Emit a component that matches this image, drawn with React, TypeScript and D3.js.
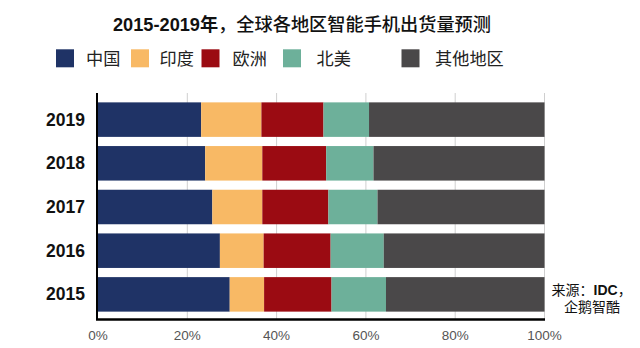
import React from "react";
import * as d3 from "d3";

const years = ["2019", "2018", "2017", "2016", "2015"];
const seriesNames = ["中国", "印度", "欧洲", "北美", "其他地区"];
const seriesColors = ["#1f3366", "#f8b965", "#9b0b12", "#6db09a", "#4a4849"];
const china = [23.1, 24.0, 25.6, 27.3, 29.5];
const india = [13.5, 12.8, 11.2, 9.8, 7.7];
const europe = [13.9, 14.3, 14.8, 15.0, 15.1];
const northAmerica = [10.2, 10.6, 11.0, 11.9, 12.2];
const others = [39.3, 38.3, 37.4, 36.0, 35.5];
const xTicks = [0, 20, 40, 60, 80, 100];
const titleYears = "2015-2019年";
const titleRest = "，全球各地区智能手机出货量预测";

const FONT = "'Liberation Sans', Arial, 'Noto Sans CJK SC', sans-serif";

export default function App() {
  const W = 640, H = 348;
  const x = d3.scaleLinear().domain([0, 100]).range([98, 544.5]);
  const y = d3.scaleBand().domain(years).range([98, 316]).paddingInner(0.21).paddingOuter(0.1);

  const table = years.map((yr, i) => ({
    year: yr,
    "中国": china[i],
    "印度": india[i],
    "欧洲": europe[i],
    "北美": northAmerica[i],
    "其他地区": others[i],
  }));
  const stack = d3.stack<any>().keys(seriesNames)(table);

  const legendPos = [
    { sx: 56, tx: 86 },
    { sx: 131, tx: 159.5 },
    { sx: 201.5, tx: 232.5 },
    { sx: 283, tx: 316.5 },
    { sx: 401.5, tx: 435 },
  ];

  return (
    <svg width={W} height={H} style={{ position: "absolute", left: 0, top: 0, background: "#fff" }} fontFamily={FONT}>
      <rect x={0} y={0} width={W} height={H} fill="#fff" />
      <text x={113} y={31} fontSize={18.2} fill="#111">
        <tspan fontWeight="bold">{titleYears}</tspan>
        <tspan fontWeight={500}>{titleRest}</tspan>
      </text>
      {seriesNames.map((s, i) => (
        <g key={s}>
          <rect x={legendPos[i].sx} y={49.3} width={18} height={18} fill={seriesColors[i]} />
          <text x={legendPos[i].tx} y={65} fontSize={17.2} fill="#222">{s}</text>
        </g>
      ))}
      {xTicks.filter((t) => t > 0).map((t) => (
        <line key={t} x1={x(t)} x2={x(t)} y1={93} y2={319} stroke="#cfcfcf" strokeWidth={1} />
      ))}
      {stack.map((layer, si) => (
        <g key={si} fill={seriesColors[si]}>
          {layer.map((d: any, j: number) => (
            <rect key={j} x={x(d[0])} y={y(d.data.year)!} width={x(d[1]) - x(d[0])} height={y.bandwidth()} />
          ))}
        </g>
      ))}
      <line x1={97} x2={97} y1={93} y2={320} stroke="#000" strokeWidth={2} />
      <line x1={96} x2={545} y1={319.5} y2={319.5} stroke="#000" strokeWidth={2.5} />
      {years.map((yr) => (
        <text key={yr} x={85} y={y(yr)! + y.bandwidth() / 2 + 6} textAnchor="end" fontSize={17.5} fontWeight="bold" fill="#111">{yr}</text>
      ))}
      {xTicks.map((t) => (
        <text key={t} x={x(t)} y={340} textAnchor="middle" fontSize={13.5} fill="#555">{t + "%"}</text>
      ))}
      <text x={551.5} y={295} fontSize={14} fill="#111">
        来源：<tspan fontWeight="bold">IDC</tspan>，
      </text>
      <text x={564} y={312} fontSize={14} fill="#111">企鹅智酷</text>
    </svg>
  );
}
